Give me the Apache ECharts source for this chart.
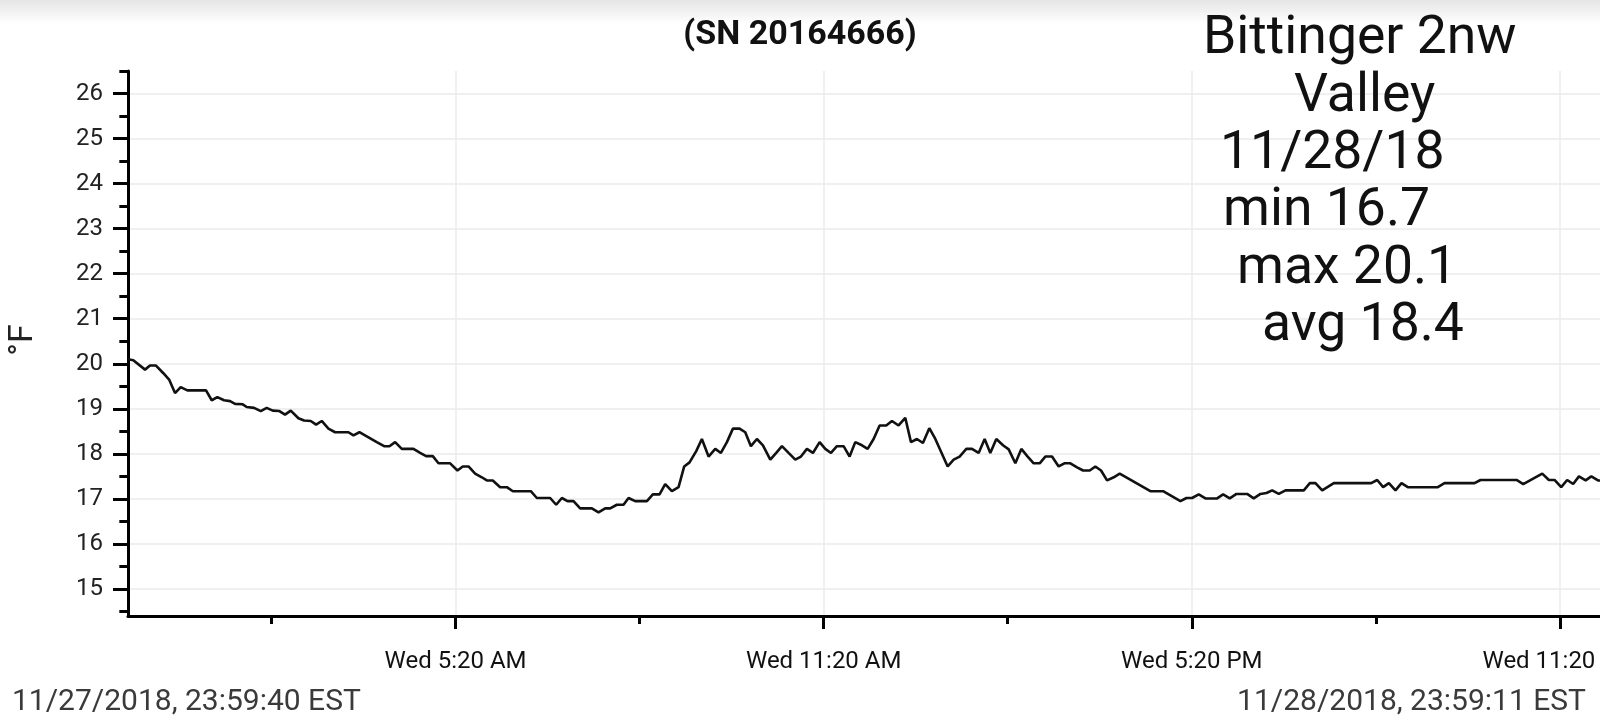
<!DOCTYPE html>
<html>
<head>
<meta charset="utf-8">
<script src="https://cdn.jsdelivr.net/npm/echarts@6/dist/echarts.min.js"></script>
<style>
html,body{margin:0;padding:0;background:#fff;}
#chart{width:1600px;height:728px;}
</style>
</head>
<body>
<div id="chart"></div>
<script>
// Hours since 11/28/2018 00:00 EST
const times = [
-0.0056, 0.081, 0.272, 0.353, 0.451, 0.571, 0.668, 0.761, 0.853, 0.962, 1.266, 1.359, 1.451, 1.560, 1.658, 1.739, 1.864, 1.929, 2.049, 2.158,
2.255, 2.353, 2.462, 2.554, 2.647, 2.772, 2.864, 2.973, 3.060, 3.152, 3.261, 3.370, 3.587, 3.669, 3.766, 3.886, 4.049, 4.169, 4.256, 4.348,
4.457, 4.647, 4.756, 4.853, 4.962, 5.055, 5.245, 5.364, 5.451, 5.544, 5.652, 5.761, 5.843, 5.940,
6.060, 6.169, 6.267, 6.560, 6.658, 6.875, 6.973, 7.066, 7.158, 7.256, 7.364, 7.555, 7.663, 7.772, 7.854, 7.962, 8.071, 8.153, 8.261, 8.452,
8.549, 8.658, 8.750, 8.859, 8.968, 9.060, 9.147, 9.256, 9.348, 9.457, 9.566, 9.658, 9.756, 9.854, 9.962, 10.055, 10.147, 10.245, 10.343, 10.463,
10.560, 10.653, 10.761, 10.870, 10.963, 11.060, 11.158, 11.267, 11.359, 11.452, 11.549, 11.658, 11.756, 11.848, 11.957,
12.050, 12.147, 12.245, 12.353, 12.446, 12.554, 12.663, 12.756, 12.853, 12.951, 13.055, 13.153, 13.354, 13.452, 13.549, 13.658, 13.750, 13.859,
13.957, 14.049, 14.147, 14.256, 14.349, 14.457, 14.555, 14.658, 14.756, 14.854, 14.946, 15.055, 15.163, 15.256, 15.354, 15.463, 15.561, 15.670,
15.761, 15.854, 15.952, 16.061, 16.158, 16.658, 16.865, 17.148, 17.246, 17.338, 17.446,
17.555, 17.746, 17.844, 17.952, 18.061, 18.235, 18.343, 18.452, 18.550, 18.643, 18.751, 18.860, 19.159, 19.257, 19.349, 19.458, 19.648, 20.257,
20.355, 20.452, 20.545, 20.653, 20.751, 20.854, 21.343, 21.452, 21.941, 22.039, 22.626, 22.735, 23.045, 23.153, 23.245, 23.354, 23.452, 23.549,
23.643, 23.752, 23.845, 23.954, 23.986
];
// Temperature, °F
const temps = [
20.10, 20.08, 19.87, 19.96, 19.96, 19.79, 19.64, 19.35, 19.48, 19.41, 19.41, 19.19, 19.26, 19.19, 19.17, 19.11, 19.10, 19.04, 19.02, 18.95,
19.02, 18.96, 18.95, 18.87, 18.96, 18.79, 18.74, 18.73, 18.65, 18.73, 18.56, 18.48, 18.48, 18.41, 18.48, 18.39, 18.26, 18.17, 18.17, 18.26,
18.11, 18.11, 18.02, 17.95, 17.95, 17.79, 17.79, 17.63, 17.72, 17.72, 17.56, 17.48, 17.41, 17.41,
17.26, 17.26, 17.17, 17.17, 17.02, 17.02, 16.87, 17.02, 16.95, 16.95, 16.79, 16.79, 16.70, 16.79, 16.79, 16.87, 16.87, 17.02, 16.95, 16.95,
17.10, 17.10, 17.33, 17.17, 17.26, 17.72, 17.81, 18.06, 18.33, 17.94, 18.11, 18.02, 18.26, 18.56, 18.56, 18.48, 18.17, 18.33, 18.19, 17.87,
18.02, 18.17, 18.02, 17.87, 17.94, 18.11, 18.02, 18.26, 18.11, 18.02, 18.17, 18.17, 17.94, 18.26, 18.19,
18.11, 18.33, 18.63, 18.63, 18.73, 18.63, 18.80, 18.26, 18.33, 18.24, 18.57, 18.33, 17.72, 17.87, 17.94, 18.11, 18.11, 18.02,
18.33, 18.02, 18.33, 18.19, 18.10, 17.79, 18.11, 17.94, 17.79, 17.79, 17.94, 17.94, 17.72, 17.79, 17.79, 17.70, 17.63, 17.63,
17.72, 17.63, 17.41, 17.48, 17.56, 17.17, 17.17, 16.95, 17.02, 17.02, 17.10,
17.01, 17.01, 17.10, 17.01, 17.11, 17.11, 17.01, 17.11, 17.13, 17.19, 17.11, 17.19, 17.19, 17.35, 17.35, 17.19, 17.35, 17.35,
17.42, 17.26, 17.35, 17.19, 17.35, 17.26, 17.26, 17.35, 17.35, 17.42, 17.42, 17.33, 17.56, 17.42, 17.42, 17.26, 17.42, 17.33,
17.50, 17.41, 17.50, 17.41, 17.41
];

const xMin = -0.0056;          // 11/27/2018 23:59:40
const xMax = 23.9864;          // 11/28/2018 23:59:11
const xMajorTicks = [5.3333, 11.3333, 17.3333, 23.3333];
const xMinorTicks = [2.3333, 8.3333, 14.3333, 20.3333];
const xTickLabels = ['Wed 5:20 AM', 'Wed 11:20 AM', 'Wed 5:20 PM', 'Wed 11:20 PM'];

const yMin = 14.4, yMax = 26.5;
const yMajorTicks = [15, 16, 17, 18, 19, 20, 21, 22, 23, 24, 25, 26];
const yMinorTicks = [14.5, 15.5, 16.5, 17.5, 18.5, 19.5, 20.5, 21.5, 22.5, 23.5, 24.5, 25.5, 26.5];

const titleText = '(SN 20164666)';
const yName = '°F';
const startLabel = '11/27/2018, 23:59:40 EST';
const endLabel = '11/28/2018, 23:59:11 EST';
const noteLines = ['Bittinger 2nw', 'Valley', '11/28/18', 'min 16.7', 'max 20.1', 'avg 18.4'];
const noteX = [1203, 1294, 1220, 1223, 1237, 1262];

const chart = echarts.init(document.getElementById('chart'), null, {renderer: 'canvas'});
const FONT = 'Roboto, "Noto Sans", sans-serif';
const gridLine = {show: true, lineStyle: {color: '#ebebeb', width: 1.5}};

const graphics = [
  {type: 'rect', left: 0, top: 0, z: 100, silent: true,
   shape: {x: 0, y: 0, width: 1600, height: 24},
   style: {fill: new echarts.graphic.LinearGradient(0, 0, 0, 1, [
     {offset: 0, color: 'rgba(0,0,0,0.10)'}, {offset: 1, color: 'rgba(0,0,0,0)'}])}},
  {type: 'text', x: 800, y: 35, z: 100,
   style: {text: titleText, fontFamily: FONT, fontWeight: 'bold', fontSize: 34, fill: '#111',
           textAlign: 'center', textVerticalAlign: 'middle'}},
  {type: 'text', x: 23, y: 340, rotation: Math.PI / 2, z: 100,
   style: {text: yName, fontFamily: FONT, fontSize: 34, fill: '#222',
           textAlign: 'center', textVerticalAlign: 'middle'}},
  {type: 'text', x: 12, y: 702, z: 100,
   style: {text: startLabel, fontFamily: FONT, fontSize: 30, fill: '#3a3a3a',
           textAlign: 'left', textVerticalAlign: 'middle'}},
  {type: 'text', x: 1586, y: 702, z: 100,
   style: {text: endLabel, fontFamily: FONT, fontSize: 30, fill: '#3a3a3a',
           textAlign: 'right', textVerticalAlign: 'middle'}}
];
noteLines.forEach((t, i) => {
  graphics.push({type: 'text', x: noteX[i], y: 40 + i * 57.3, z: 100,
    style: {text: t, fontFamily: FONT, fontSize: 53.5, fill: '#111',
            textAlign: 'left', textVerticalAlign: 'middle'}});
});

const option = {
  animation: false,
  backgroundColor: '#ffffff',
  textStyle: {fontFamily: FONT},
  grid: {left: 128, right: 0, top: 71, bottom: 112, containLabel: false, outerBoundsMode: 'none'},
  xAxis: [
    {type: 'value', min: xMin, max: xMax, position: 'bottom',
     axisLine: {show: true, onZero: false, lineStyle: {color: '#000', width: 3}},
     axisTick: {show: true, customValues: xMajorTicks, length: 13, lineStyle: {color: '#000', width: 3}},
     axisLabel: {show: true, customValues: xMajorTicks, margin: 34, fontSize: 24, color: '#111', fontFamily: FONT,
                 formatter: v => xTickLabels[xMajorTicks.indexOf(v)]},
     splitLine: gridLine},
    {type: 'value', min: xMin, max: xMax, position: 'bottom',
     axisLine: {show: false},
     axisTick: {show: true, customValues: xMinorTicks, length: 8, lineStyle: {color: '#000', width: 3}},
     axisLabel: {show: false},
     splitLine: {show: false}}
  ],
  yAxis: [
    {type: 'value', min: yMin, max: yMax, position: 'left',
     axisLine: {show: true, onZero: false, lineStyle: {color: '#000', width: 3}},
     axisTick: {show: true, customValues: yMajorTicks, length: 15, lineStyle: {color: '#000', width: 3}},
     axisLabel: {show: true, customValues: yMajorTicks, margin: 25, fontSize: 24, color: '#222', fontFamily: FONT},
     splitLine: gridLine},
    {type: 'value', min: yMin, max: yMax, position: 'left', offset: 0,
     axisLine: {show: false},
     axisTick: {show: true, customValues: yMinorTicks, length: 9, lineStyle: {color: '#000', width: 3}},
     axisLabel: {show: false},
     splitLine: {show: false}}
  ],
  series: [{
    type: 'line', xAxisIndex: 0, yAxisIndex: 0,
    data: times.map((t, i) => [t, temps[i]]),
    showSymbol: false, symbol: 'none',
    lineStyle: {color: '#111', width: 2.6},
    clip: false
  }],
  graphic: graphics
};
chart.setOption(option);
</script>
</body>
</html>
